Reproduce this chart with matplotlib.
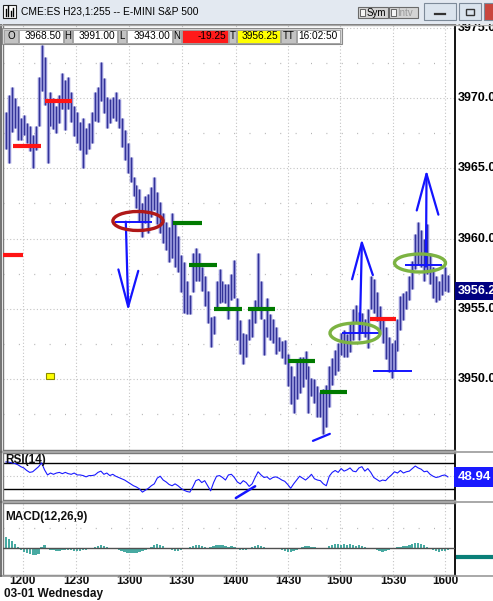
import matplotlib
matplotlib.use('Agg')
import matplotlib.pyplot as plt
from matplotlib.patches import Rectangle, Ellipse
from matplotlib.lines import Line2D
import numpy as np

W, H = 493, 601
plt.rcParams['font.family'] = ['Liberation Sans', 'DejaVu Sans']

# ---------------- data ----------------
title = "CME:ES H23,1:255 -- E-MINI S&P 500"
info_labels = ['O', 'H', 'L', 'N', 'T', 'TT']
info_values = ['3968.50', '3991.00', '3943.00', '-19.25', '3956.25', '16:02:50']

highs = [
    3969.0, 3970.2, 3970.8, 3970.0, 3969.4, 3968.6, 3968.8, 3968.2, 3968.0, 3967.4,
    3968.0, 3971.5, 3973.8, 3972.9, 3969.8, 3970.4, 3970.0, 3969.4, 3970.2, 3971.8,
    3971.3, 3971.5, 3970.4, 3969.4, 3969.0, 3968.3, 3968.6, 3967.9, 3968.2, 3969.0,
    3970.4, 3970.8, 3972.6, 3971.4, 3970.1, 3969.9, 3970.1, 3970.4, 3969.9, 3968.6,
    3967.7, 3966.8, 3965.8, 3964.4, 3963.8, 3963.5, 3962.5, 3963.0, 3963.2, 3963.7,
    3964.4, 3963.3, 3962.6, 3961.8, 3961.2, 3960.8, 3961.8, 3961.0, 3960.2, 3958.8,
    3958.3, 3957.0, 3956.0, 3959.0, 3959.3, 3959.0, 3958.0, 3957.3, 3956.3, 3954.4,
    3954.5, 3957.0, 3957.8, 3957.0, 3956.8, 3956.8, 3957.5, 3958.5, 3955.8, 3954.2,
    3953.3, 3953.2, 3954.3, 3954.9, 3955.6, 3959.0, 3957.0, 3954.3, 3955.8, 3954.6,
    3954.3, 3953.7, 3953.0, 3952.7, 3952.8, 3951.8, 3950.9, 3950.2, 3951.2, 3951.6,
    3951.6, 3952.0, 3950.9, 3950.1, 3950.0, 3949.5, 3949.1, 3949.3, 3949.6, 3950.9,
    3951.5, 3952.1, 3952.6, 3953.3, 3953.5, 3953.2, 3954.0, 3955.0, 3955.3, 3954.8,
    3954.7, 3954.3, 3955.0, 3957.3, 3957.1, 3956.2, 3955.2, 3954.4, 3953.7, 3953.0,
    3952.6, 3952.8, 3954.3, 3955.9, 3956.1, 3956.3, 3957.3, 3958.4, 3960.3, 3961.2,
    3960.6, 3960.0, 3961.0, 3959.0, 3958.0, 3957.3, 3957.0, 3957.5, 3958.0, 3957.4]

lows = [
    3966.4, 3965.4, 3967.6, 3967.9, 3967.0, 3967.0, 3967.4, 3966.8, 3966.2, 3965.0,
    3966.3, 3968.0, 3970.5, 3969.5, 3965.4, 3968.0, 3967.8, 3967.5, 3968.2, 3969.2,
    3967.7, 3969.2, 3968.3, 3967.3, 3966.8, 3966.3, 3965.0, 3966.0, 3966.4, 3966.8,
    3968.4, 3968.3, 3969.8, 3968.9, 3967.9, 3968.2, 3968.6, 3968.4, 3967.9, 3966.5,
    3965.6, 3964.7, 3964.0, 3963.0, 3962.2, 3961.2, 3960.1, 3961.1, 3960.4, 3961.5,
    3962.0, 3961.0, 3960.4, 3959.7, 3959.2, 3958.3, 3958.6, 3958.0, 3957.6, 3956.2,
    3954.7, 3954.6, 3954.6, 3956.2, 3957.0, 3957.0, 3956.3, 3955.2, 3954.0, 3952.3,
    3953.2, 3954.9, 3955.4, 3955.5, 3955.4, 3954.3, 3955.6, 3955.8, 3952.8, 3951.8,
    3951.1, 3951.6, 3952.8, 3953.0, 3954.0, 3955.0, 3954.3, 3951.7, 3953.0, 3952.8,
    3952.6, 3951.8, 3952.0, 3951.5, 3951.1, 3949.5, 3948.2, 3947.6, 3948.6, 3949.0,
    3949.4, 3950.0, 3947.6, 3948.8, 3948.3, 3947.3, 3947.3, 3946.1, 3946.6, 3948.0,
    3949.6, 3950.3, 3950.6, 3951.7, 3951.6, 3951.6, 3951.9, 3952.8, 3954.0, 3952.8,
    3953.3, 3953.0, 3952.2, 3955.0, 3954.7, 3954.1, 3953.4, 3952.6, 3951.4, 3950.5,
    3950.1, 3950.6, 3952.0, 3953.5, 3954.2, 3955.0, 3955.6, 3956.4, 3957.8, 3958.2,
    3958.0, 3957.0, 3957.5, 3956.8, 3955.8, 3955.5, 3955.6, 3956.0, 3956.3, 3956.2]

rsi = [
    72.5, 72, 71, 70, 68, 65, 63, 59, 56, 57,
    61, 65, 71, 60, 52, 55, 53, 55, 56, 54,
    56, 54, 53, 55, 52, 52, 51, 49, 51, 51,
    52, 56, 58, 53, 55, 51, 53, 50, 48, 46,
    44, 41, 38, 35, 33, 30, 25, 28, 31, 35,
    38, 47, 50, 44, 41, 37, 35, 38, 35, 31,
    28, 26, 25, 33, 43, 45, 40, 43, 35, 27,
    40, 50, 51, 48, 44, 52, 53, 48, 41, 38,
    43, 40, 34, 38, 48, 57, 52, 48, 49, 45,
    48, 49, 47, 44, 42, 37, 31, 38, 44, 50,
    47, 44, 48, 53, 46, 44, 43, 38, 35, 50,
    56, 59, 56, 62, 58, 60, 63, 58, 57, 63,
    65, 58, 62, 56, 48, 45, 42, 44, 43, 48,
    52, 57, 55, 59, 55, 57, 58, 62, 66, 63,
    61, 57, 58, 53, 50, 48, 49, 51, 52, 48.94]

macd_hist = [
    11, 9, 7, 4, 1, -2, -4, -5, -6, -7,
    -7, -6, 1, 3, -1, -2, -2, -3, -3, -2,
    -2, -2, -2, -3, -3, -3, -2, -2, -1, 0,
    1, 2, 3, 2, 1, 0, -1, -1, -2, -3,
    -4, -5, -5, -5, -5, -4, -3, -2, -1, 1,
    3, 4, 3, 2, 0, -1, -2, -3, -3, -2,
    -1, 0, 1, 2, 3, 3, 2, 1, 0, 1,
    2, 3, 3, 3, 2, 1, 2, 1, -1, -2,
    -2, -2, -1, 1, 2, 3, 2, 1, 0, -1,
    -1, -1, -1, -2, -3, -4, -4, -3, -2, -1,
    1, 2, 2, 1, 1, 0, -1, -1, 0, 2,
    3, 4, 4, 3, 4, 3, 4, 3, 2, 3,
    2, 1, 0, 0, -1, -2, -3, -4, -3, -2,
    -1, 0, 1, 1, 2, 2, 3, 4, 5, 5,
    4, 3, 1, -1, -2, -3, -4, -3, -3, -2]
macd_last = -9

price_ticks = [3975, 3970, 3965, 3960, 3955, 3950]
time_labels = ['1200', '1230', '1300', '1330', '1400', '1430', '1500', '1530', '1600']
time_pos = [5.7, 23.6, 41.5, 59.3, 77.5, 95.1, 112.6, 130.5, 148.0]
date_label = '03-01 Wednesday'
last_price = 3956.25
last_rsi = 48.94

# annotation levels: (start bar, end bar, price)
red_levels = [(2.4, 11.8, 3966.6), (13.1, 22.3, 3969.8), (-1.0, 5.7, 3958.8), (122.7, 131.5, 3954.3)]
green_levels = [(56.3, 66.1, 3961.1), (61.7, 71.1, 3958.1), (70.1, 79.6, 3955.0),
                (81.6, 90.7, 3955.0), (95.1, 104.2, 3951.3), (105.9, 115.0, 3949.1)]
blue_levels = [(36.7, 49.2, 3961.2), (113.3, 125.8, 3953.3), (123.7, 136.9, 3950.6), (134.5, 147.0, 3958.1)]
blue_diag = ([103.5, 109.2], [3945.6, 3946.1])
down_arrow_shaft = ([40.4, 41.2], [3961.2, 3955.15])
down_arrow_head = ([37.9, 41.2, 44.6], [3957.8, 3955.15, 3957.7])
up1_shaft = ([119.3, 120.0], [3953.3, 3959.7])
up1_head = ([116.7, 120.0, 123.7], [3957.1, 3959.7, 3957.4])
up2_shaft = ([141.6, 141.8], [3958.0, 3964.6])
up2_head = ([138.5, 141.8, 145.8], [3962.0, 3964.6, 3961.7])
red_ellipse = (44.5, 3961.25, 16.9, 1.35)
green_ellipses = [(117.7, 3953.27, 16.9, 1.42), (139.6, 3958.26, 17.2, 1.28)]
yellow_box = (13.5, 3950.0, 2.7, 0.43)
rsi_diag = ([77.5, 84.0], [15.7, 34.2])

# ---------------- figure ----------------
fig = plt.figure(figsize=(W / 100, H / 100), dpi=100)
fig.patch.set_facecolor('white')


def fx(x):
    return x / W


def fy(y):
    return 1 - y / H


X0, X1 = 3, 455
ax = fig.add_axes([fx(X0), fy(450), (X1 - X0) / W, (450 - 24) / H])
rax = fig.add_axes([fx(X0), fy(500), (X1 - X0) / W, (500 - 453) / H])
mx = fig.add_axes([fx(X0), fy(575), (X1 - X0) / W, (575 - 503) / H])

idx = np.arange(len(highs))
xlim = (-1.01, 151.4)
grid_kw = dict(color='#c4c4c4', lw=0.8, ls=(0, (1, 2)), zorder=0)
minor_kw = dict(color='#b4b4b4', lw=0.9, ls=(0, (0.8, 11.5)), zorder=0)

for a in (ax, rax, mx):
    a.set_xlim(*xlim)
    a.set_xticks([])
    a.set_yticks([])
    for x in time_pos:
        a.axvline(x, **grid_kw)
    for s in ('left', 'top', 'bottom'):
        a.spines[s].set_color('#7a7a7a')
        a.spines[s].set_linewidth(1.0)
    a.spines['right'].set_color('#000000')
    a.spines['right'].set_linewidth(1.3)

# main price panel
ax.set_ylim(3944.95, 3975.27)
for p in price_ticks:
    ax.axhline(p, **grid_kw)
    ax.axhline(p - 2.5, **minor_kw)

ax.vlines(idx, lows, highs, color='#8e8ed4', lw=2.5, zorder=2)
ax.vlines(idx, lows, highs, color='#2a2a92', lw=0.65, zorder=3)

for x0, x1, p in red_levels:
    ax.plot([x0, x1], [p, p], color='#ff1414', lw=3.0, solid_capstyle='butt', zorder=4)
for x0, x1, p in green_levels:
    ax.plot([x0, x1], [p, p], color='#007a00', lw=3.0, solid_capstyle='butt', zorder=4)
for x0, x1, p in blue_levels:
    ax.plot([x0, x1], [p, p], color='#1414ff', lw=1.4, solid_capstyle='butt', zorder=5)
blue_kw = dict(color='#1414ff', lw=1.6, zorder=6, solid_capstyle='round')
ax.plot(*blue_diag, **blue_kw)
for xs, ys in (down_arrow_shaft, down_arrow_head, up1_shaft, up1_head, up2_shaft, up2_head):
    ax.plot(xs, ys, **blue_kw)

cx, cy, w, h = red_ellipse
ax.add_patch(Ellipse((cx, cy), w, h, fill=False, ec='#b01818', lw=2.4, zorder=7))
for cx, cy, w, h in green_ellipses:
    ax.add_patch(Ellipse((cx, cy), w, h, fill=False, ec='#7cb342', lw=2.4, zorder=7))
bx, by, bw, bh = yellow_box
ax.add_patch(Rectangle((bx, by), bw, bh, fc='#ffff00', ec='#8a8a00', lw=0.8, zorder=6))

ytr = ax.get_yaxis_transform()
for p in price_ticks:
    ax.text(1.0055, p, f'{p:.2f}', transform=ytr, ha='left', va='center',
            fontsize=9, fontweight='bold', color='#000000', clip_on=False)
ax.text(1.0055, last_price, f'{last_price:.2f}', transform=ytr, ha='left', va='center',
        fontsize=9, fontweight='bold', color='white', clip_on=False, zorder=8,
        bbox=dict(boxstyle='square,pad=0.22', fc='#000080', ec='none'))

# RSI panel
rax.set_ylim(12.6, 86.5)
rax.axhline(70, color='#000000', lw=1.0, zorder=1)
rax.axhline(30, color='#000000', lw=1.0, zorder=1)
rax.axhline(50, **grid_kw)
rax.plot(idx, rsi, color='#1a1aff', lw=0.8, zorder=3)
rax.plot(*rsi_diag, color='#1414ff', lw=1.8, zorder=4, solid_capstyle='round')
rax.text(0.004, 0.86, 'RSI(14)', transform=rax.transAxes, ha='left', va='center',
         fontsize=8.5, fontweight='bold', color='#101010', zorder=5)
rax.text(1.0055, last_rsi, f'{last_rsi:.2f}', transform=rax.get_yaxis_transform(),
         ha='left', va='center', fontsize=9.5, fontweight='bold', color='white', clip_on=False,
         bbox=dict(boxstyle='square,pad=0.3', fc='#1a1aff', ec='none'))

# MACD panel
mx.set_ylim(-27, 45)
mx.bar(idx, macd_hist, width=0.8, color='#48aaa2', zorder=2)
mx.axhline(0, color='#505050', lw=1.0, zorder=3)
mx.axhline(20, **minor_kw)
mx.text(0.004, 0.80, 'MACD(12,26,9)', transform=mx.transAxes, ha='left', va='center',
        fontsize=8.5, fontweight='bold', color='#101010')
mx.plot([1.002, 1.09], [macd_last, macd_last], transform=mx.get_yaxis_transform(),
        color='#0a7f78', lw=3.0, clip_on=False, solid_capstyle='butt')

# time axis labels
for x, lab in zip(time_pos, time_labels):
    mx.text(x, -0.085, lab, transform=mx.get_xaxis_transform(), ha='center', va='center',
            fontsize=8.5, fontweight='bold', color='#101010', clip_on=False)
fig.text(fx(4), fy(594.5), date_label, ha='left', va='center', fontsize=8.5,
         fontweight='bold', color='#101010')

# separators across the full width
for y in (451.5, 501.5, 575.5):
    fig.add_artist(Line2D([0, 1], [fy(y), fy(y)], color='#9a9a9a', lw=1.2, zorder=1))
fig.add_artist(Line2D([fx(1), fx(1)], [fy(24), fy(576)], color='#5a5a5a', lw=1.2, zorder=1))

# title bar
fig.add_artist(Rectangle((0, fy(24)), 1, 24 / H, transform=fig.transFigure,
                         fc='#e3e9f1', ec='none', zorder=10))
fig.add_artist(Line2D([0, 1], [fy(24.5), fy(24.5)], color='#a8a8a8', lw=1.0, zorder=11))
fig.add_artist(Rectangle((fx(3), fy(18)), 13 / W, 13 / H, transform=fig.transFigure,
                         fc='white', ec='#202020', lw=0.8, zorder=11))
for k, hh in enumerate((7, 10, 5, 8)):
    fig.add_artist(Line2D([fx(5.5 + 2.6 * k)] * 2, [fy(16), fy(16 - hh)], color='#000000',
                          lw=1.0, zorder=12))
fig.text(fx(21), fy(12), title, ha='left', va='center', fontsize=7.4, color='#000000', zorder=12)

for x0, x1, lab, col in ((358, 388, 'Sym', '#000000'), (389, 418, 'Intv', '#9a9a9a')):
    fig.add_artist(Rectangle((fx(x0), fy(18)), (x1 - x0) / W, 11 / H, transform=fig.transFigure,
                             fc='#d4d4d4', ec='#6a6a6a', lw=0.8, zorder=11))
    fig.add_artist(Rectangle((fx(x0 + 2), fy(16)), 5 / W, 7 / H, transform=fig.transFigure,
                             fc='#f4f4f4', ec='#505050', lw=0.6, zorder=12))
    fig.text(fx(x0 + 8.5), fy(12.5), lab, ha='left', va='center', fontsize=7, color=col, zorder=12)

for x0, x1, fc in ((424, 456, '#dbe4ee'), (459, 481, '#dbe4ee'), (484, 500, '#c9463d')):
    fig.add_artist(Rectangle((fx(x0), fy(20)), (x1 - x0) / W, 17 / H, transform=fig.transFigure,
                             fc=fc, ec='#7d8a99', lw=0.8, zorder=11))
fig.add_artist(Line2D([fx(435), fx(445)], [fy(14), fy(14)], color='#333333', lw=1.6, zorder=12))
fig.add_artist(Rectangle((fx(466), fy(15)), 8 / W, 6 / H, transform=fig.transFigure,
                         fc='none', ec='#333333', lw=1.0, zorder=12))

# info bar
cells = [(3, 18), (18, 63), (63, 72), (72, 117), (117, 126), (126, 172),
         (172, 181), (181, 228), (228, 236), (236, 280), (280, 296), (296, 340)]
value_bg = ['#ffffff', '#ffffff', '#ffffff', '#ff1a1a', '#ffff00', '#ffffff']
fig.add_artist(Rectangle((fx(2), fy(44)), 340 / W, 16 / H, transform=fig.transFigure,
                         fc='#d8d8d8', ec='#8a8a8a', lw=0.8, zorder=9))
for k in range(6):
    lx0, lx1 = cells[2 * k]
    vx0, vx1 = cells[2 * k + 1]
    fig.add_artist(Rectangle((fx(lx0 + 1), fy(42.5)), (lx1 - lx0 - 1) / W, 13 / H,
                             transform=fig.transFigure, fc='#c3c3c3', ec='#9a9a9a', lw=0.6, zorder=10))
    fig.add_artist(Rectangle((fx(vx0 + 1), fy(42.5)), (vx1 - vx0 - 1) / W, 13 / H,
                             transform=fig.transFigure, fc=value_bg[k], ec='#9a9a9a', lw=0.6, zorder=10))
    fig.text(fx((lx0 + lx1) / 2 + 0.5), fy(36), info_labels[k], ha='center', va='center',
             fontsize=7, color='#000000', zorder=11)
    fig.text(fx(vx1 - 2), fy(36), info_values[k], ha='right', va='center',
             fontsize=7.3, color='#000000', zorder=11)

fig.savefig('out.png', dpi=100, facecolor='white')
